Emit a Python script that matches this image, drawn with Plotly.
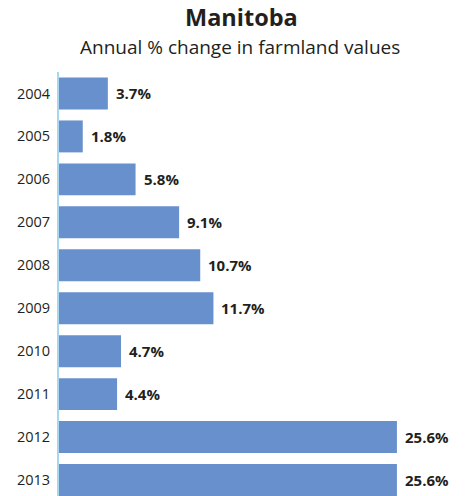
import plotly.graph_objects as go

years = ["2004", "2005", "2006", "2007", "2008", "2009", "2010", "2011", "2012", "2013"]
values = [3.7, 1.8, 5.8, 9.1, 10.7, 11.7, 4.7, 4.4, 25.6, 25.6]
labels = ["3.7%", "1.8%", "5.8%", "9.1%", "10.7%", "11.7%", "4.7%", "4.4%", "25.6%", "25.6%"]

FONT = "Open Sans"
W, H = 465, 496
ML = 59
PX_PER_UNIT = 13.2
xmax = (W - ML) / PX_PER_UNIT
plot_top = 71.5
plot_h = H - plot_top
ybottom = -0.5 + plot_h / 43.0


def py2paper(py):
    return 1 + (plot_top - py) / plot_h


def px2paper(px):
    return (px - ML) / (W - ML)


fig = go.Figure()
fig.add_trace(go.Bar(
    x=values, y=list(range(len(years))), orientation="h",
    marker=dict(color="#6890CC", line=dict(width=0)),
    width=0.744,
    hoverinfo="skip",
))

for i, (v, t) in enumerate(zip(values, labels)):
    fig.add_annotation(x=v, y=i, xref="x", yref="y", text="<b>%s</b>" % t,
                       showarrow=False, xanchor="left", yanchor="middle", xshift=6,
                       font=dict(family=FONT, size=15, color="#231F20"))

fig.add_annotation(x=px2paper(241), y=py2paper(16), xref="paper", yref="paper",
                   text="<b>Manitoba</b>", showarrow=False, xanchor="center", yanchor="middle",
                   font=dict(family=FONT, size=23.5, color="#231F20"))
fig.add_annotation(x=px2paper(240), y=py2paper(46), xref="paper", yref="paper",
                   text="Annual % change in farmland values", showarrow=False,
                   xanchor="center", yanchor="middle",
                   font=dict(family=FONT, size=19, color="#231F20"))

fig.update_layout(
    width=W, height=H,
    margin=dict(l=ML, r=0, t=plot_top, b=0, autoexpand=False),
    paper_bgcolor="white", plot_bgcolor="white",
    showlegend=False,
)
fig.update_xaxes(range=[0, xmax], visible=False, showgrid=False, zeroline=False, automargin=False)
fig.update_yaxes(range=[ybottom, -0.5], tickmode="array", tickvals=list(range(len(years))),
                 ticktext=years, showgrid=False, zeroline=False, automargin=False,
                 showline=True, linecolor="#A9D6EF", linewidth=2,
                 ticks="", ticklabelstandoff=4,
                 tickfont=dict(family=FONT, size=14.5, color="#231F20"))

fig.write_html("out.html", config={"displayModeBar": False},
               post_script="document.body.style.margin='0';")
